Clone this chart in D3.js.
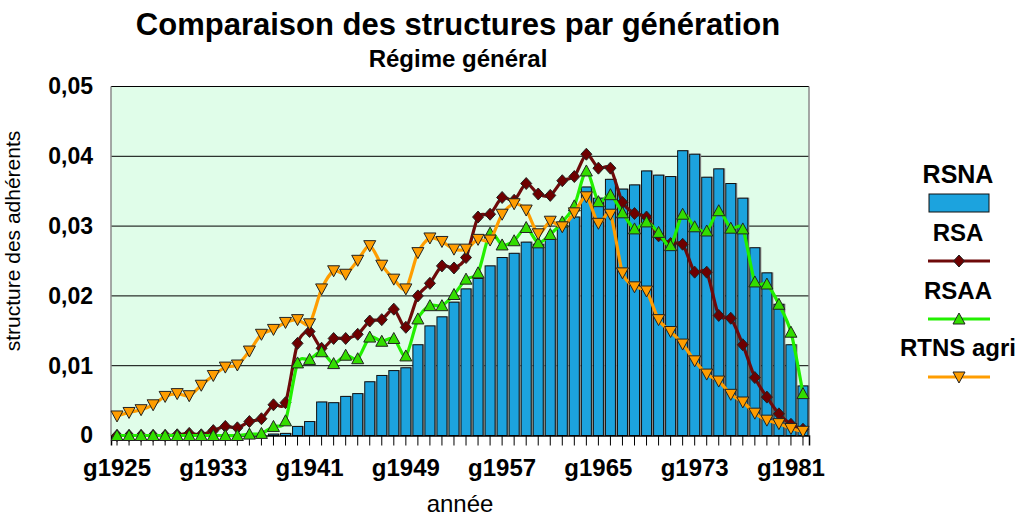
<!DOCTYPE html>
<html>
<head>
<meta charset="utf-8">
<script src="https://cdn.jsdelivr.net/npm/d3@7"></script>
<style>
  body { margin: 0; background: #fff; }
  text { font-family: "Liberation Sans", Arial, sans-serif; }
</style>
</head>
<body>
<div id="chart"></div>
<script>
const width = 1023
const height = 521
const margin = {
    top: 86.5,
    bottom: 85.5,
    left: 111,
    right: 214
}

// données (générations g1925 .. g1982)
const generations = d3.range(1925, 1983).map(a => "g" + a)
const tickLabels = ["g1925", "g1933", "g1941", "g1949", "g1957", "g1965", "g1973", "g1981"]
const yTicks = [0, 0.01, 0.02, 0.03, 0.04, 0.05]

const rsna = [0, 0, 0, 0, 0, 0, 0, 0, 0, 0, 0, 0, 0, 0.0002, 0.0003, 0.0013, 0.002, 0.0048, 0.0047, 0.0056,
    0.006, 0.0077, 0.0086, 0.0093, 0.0097, 0.013, 0.0157, 0.017, 0.0191, 0.021,
    0.0225, 0.0243, 0.0255, 0.0261, 0.0277, 0.0274, 0.0281, 0.0299, 0.0313, 0.0356,
    0.034, 0.0367, 0.0353, 0.0359, 0.0379, 0.0373, 0.0371, 0.0408, 0.0403, 0.037,
    0.0382, 0.0361, 0.034, 0.0269, 0.0233, 0.0188, 0.013, 0.0071]

const rsa = [0, 0, 0, 0, 0, 0.0001, 0.0003, 0.0001, 0.0007, 0.0013, 0.0011, 0.002, 0.0024, 0.0044, 0.0047, 0.0132, 0.0149, 0.0125, 0.0139, 0.0139,
    0.0145, 0.0164, 0.0166, 0.0181, 0.0155, 0.02, 0.0218, 0.0243, 0.024, 0.0255,
    0.0313, 0.0317, 0.0341, 0.0337, 0.0361, 0.0346, 0.0344, 0.0365, 0.0371, 0.0403,
    0.0383, 0.0383, 0.0334, 0.0318, 0.0313, 0.0286, 0.0275, 0.0274, 0.0234, 0.0234,
    0.0172, 0.0168, 0.013, 0.0083, 0.0055, 0.0031, 0.0016, 0.0009]

const rsaa = [0, 0, 0, 0, 0, 0, 0, 0, 0, 0, 0, 0.0002, 0.0003, 0.0013, 0.0021, 0.0104, 0.0109, 0.012, 0.0103, 0.0115,
    0.011, 0.0141, 0.0135, 0.0139, 0.0114, 0.0167, 0.0186, 0.0186, 0.0202, 0.0224,
    0.0233, 0.029, 0.0273, 0.0279, 0.0298, 0.0276, 0.0288, 0.0306, 0.0329, 0.0379,
    0.0335, 0.0345, 0.0319, 0.0296, 0.0306, 0.0291, 0.0272, 0.0317, 0.0299, 0.0293,
    0.0322, 0.0297, 0.0296, 0.022, 0.0217, 0.0188, 0.0148, 0.006]

const rtnsAgri = [0.0028, 0.0033, 0.0037, 0.0044, 0.0056, 0.006, 0.0057, 0.0072, 0.0086, 0.0098,
    0.0101, 0.0121, 0.0145, 0.0152, 0.0162, 0.0166, 0.016, 0.021, 0.0236, 0.0231,
    0.0251, 0.0272, 0.0244, 0.0224, 0.021, 0.0262, 0.0283, 0.0278, 0.0267, 0.0267,
    0.0281, 0.028, 0.0317, 0.0332, 0.0323, 0.0289, 0.0307, 0.0299, 0.0319, 0.0342,
    0.0304, 0.0317, 0.0233, 0.0213, 0.0207, 0.0166, 0.0149, 0.0131, 0.0107, 0.0088,
    0.0078, 0.0059, 0.0048, 0.0032, 0.0022, 0.0017, 0.001, 0.0006]

const series = [
    { name: "RSA", values: rsa, color: "#6e0a0a", fill: "#6e0000", symbol: d3.symbolDiamond },
    { name: "RSAA", values: rsaa, color: "#22f000", fill: "#33dd00", symbol: d3.symbolTriangle },
    { name: "RTNS agri", values: rtnsAgri, color: "#ff9d00", fill: "#ff9d00", symbol: "down" }
]

const svg = d3.select("#chart")
    .append("svg")
    .attr("width", width)
    .attr("height", height)

// échelles
const x = d3.scaleBand()
    .domain(generations)
    .range([margin.left, width - margin.right])
const y = d3.scaleLinear()
    .domain([0, 0.05])
    .range([height - margin.bottom, margin.top])

const fmt = d => d === 0 ? "0" : d3.format(".2f")(d).replace(".", ",")

// fond de la zone de tracé
svg.append("rect")
    .attr("x", margin.left)
    .attr("y", margin.top)
    .attr("width", width - margin.left - margin.right)
    .attr("height", height - margin.top - margin.bottom)
    .attr("fill", "#e0fde9")

// grille
svg.append("g")
    .selectAll("line")
    .data(yTicks.filter(d => d > 0))
    .join("line")
    .attr("x1", margin.left)
    .attr("x2", width - margin.right)
    .attr("y1", d => y(d))
    .attr("y2", d => y(d))
    .attr("stroke", "#000")
    .attr("stroke-width", 1)

// bordure gauche / droite grise
svg.append("path")
    .attr("d", `M${margin.left},${height - margin.bottom}V${margin.top}M${width - margin.right},${margin.top}V${height - margin.bottom}`)
    .attr("stroke", "#8a8a8a")
    .attr("stroke-width", 1.5)
    .attr("fill", "none")

// barres RSNA
const bw = x.bandwidth() * 0.83
const off = (x.bandwidth() - bw) / 2
const barData = rsna.map((v, i) => ({ g: generations[i], v: v })).filter(d => d.v > 0)

svg.append("g")
    .selectAll("rect")
    .data(barData)
    .join("rect")
    .attr("x", d => x(d.g) + off + 1.5)
    .attr("y", d => y(d.v) - 0.5)
    .attr("width", bw)
    .attr("height", d => y(0) - y(d.v))
    .attr("fill", "#8c8c8c")

svg.append("g")
    .selectAll("rect")
    .data(barData)
    .join("rect")
    .attr("x", d => x(d.g) + off)
    .attr("y", d => y(d.v))
    .attr("width", bw)
    .attr("height", d => y(0) - y(d.v))
    .attr("fill", "#1ca3de")
    .attr("stroke", "#111")
    .attr("stroke-width", 1)

// axe des x
const xAxis = d3.axisBottom(x)
    .tickSize(10)
    .tickFormat(d => tickLabels.includes(d) ? d : "")
const xAxisGroup = svg.append("g")
    .attr("transform", `translate(0,${height - margin.bottom})`)
    .call(xAxis)
xAxisGroup.select(".domain").attr("stroke", "#000").attr("stroke-width", 1.5)
xAxisGroup.selectAll(".tick line").attr("stroke", "#000")
xAxisGroup.selectAll(".tick text")
    .attr("y", 40)
    .attr("dy", 0)
    .attr("font-size", 24)
    .attr("font-weight", "bold")
    .attr("fill", "#000")

// axe des y
const yAxis = d3.axisLeft(y).tickValues(yTicks).tickSize(0).tickPadding(18).tickFormat(fmt)
const yAxisGroup = svg.append("g")
    .attr("transform", `translate(${margin.left},0)`)
    .call(yAxis)
yAxisGroup.select(".domain").remove()
yAxisGroup.selectAll(".tick text")
    .attr("font-size", 23)
    .attr("font-weight", "bold")
    .attr("fill", "#000")

// courbes
const line = d3.line()
    .x((d, i) => x(generations[i]) + x.bandwidth() / 2)
    .y(d => y(d))
    .curve(d3.curveCardinal.tension(0.2))

function marker(sym) {
    if (sym === "down") {
        return "M-6,-5L6,-5L0,6Z"
    }
    if (sym === d3.symbolDiamond) {
        return "M0,-6L5.5,0L0,6L-5.5,0Z"
    }
    return "M0,-6L6,5L-6,5Z"
}

series.forEach(s => {
    const g = svg.append("g")
    g.append("path")
        .attr("d", line(s.values))
        .attr("fill", "none")
        .attr("stroke", s.color)
        .attr("stroke-width", 3.2)
    g.selectAll("path.m")
        .data(s.values)
        .join("path")
        .attr("class", "m")
        .attr("d", marker(s.symbol))
        .attr("transform", (d, i) => `translate(${x(generations[i]) + x.bandwidth() / 2},${y(d)})`)
        .attr("fill", s.fill)
        .attr("stroke", "#222")
        .attr("stroke-width", 1)
})

// titres
svg.append("text")
    .attr("x", 458).attr("y", 35)
    .attr("text-anchor", "middle")
    .attr("font-size", 31)
    .attr("font-weight", "bold")
    .text("Comparaison des structures par génération")
svg.append("text")
    .attr("x", 458).attr("y", 67)
    .attr("text-anchor", "middle")
    .attr("font-size", 24)
    .attr("font-weight", "bold")
    .text("Régime général")
svg.append("text")
    .attr("x", 460).attr("y", 512)
    .attr("text-anchor", "middle")
    .attr("font-size", 24)
    .text("année")
svg.append("text")
    .attr("transform", "translate(20,241) rotate(-90)")
    .attr("text-anchor", "middle")
    .attr("font-size", 21)
    .text("structure des adhérents")

// légende
const leg = svg.append("g")
const legX = 958
leg.append("text").attr("x", legX).attr("y", 183).attr("text-anchor", "middle")
    .attr("font-size", 25).attr("font-weight", "bold").text("RSNA")
leg.append("rect").attr("x", 929).attr("y", 194).attr("width", 60).attr("height", 18)
    .attr("fill", "#1ca3de").attr("stroke", "#111").attr("stroke-width", 1)

const legRows = [{ t: 241, l: 261 }, { t: 299, l: 319 }, { t: 356, l: 377 }]
series.forEach((s, i) => {
    leg.append("text").attr("x", legX).attr("y", legRows[i].t).attr("text-anchor", "middle")
        .attr("font-size", 24).attr("font-weight", "bold").text(s.name)
    leg.append("line").attr("x1", 928).attr("x2", 990)
        .attr("y1", legRows[i].l).attr("y2", legRows[i].l)
        .attr("stroke", s.color).attr("stroke-width", 3.2)
    leg.append("path").attr("d", marker(s.symbol))
        .attr("transform", `translate(${legX + 1},${legRows[i].l})`)
        .attr("fill", s.fill).attr("stroke", "#222").attr("stroke-width", 1)
})
</script>
</body>
</html>
